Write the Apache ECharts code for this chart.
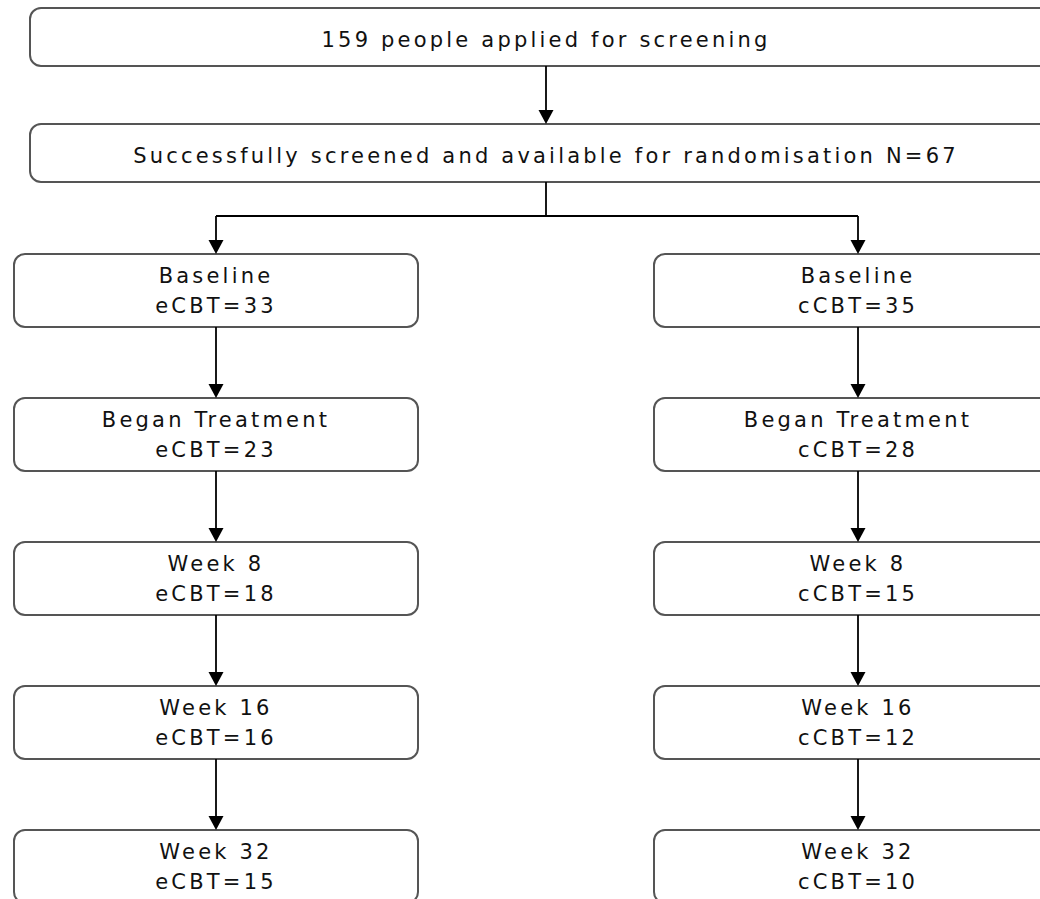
<!DOCTYPE html>
<html>
<head>
<meta charset="utf-8">
<script src="https://cdn.jsdelivr.net/npm/echarts@6/dist/echarts.min.js"></script>
<style>
  html, body { margin: 0; padding: 0; background: #fff; }
  #flow { width: 1040px; height: 899px; letter-spacing: 3.2px; }
</style>
</head>
<body>
<div id="flow"></div>
<script>
// flowchart counts
const applied = 159;
const randomised = 67;
const stages = ['Baseline', 'Began Treatment', 'Week 8', 'Week 16', 'Week 32'];
const eCBT = [33, 23, 18, 16, 15];
const cCBT = [35, 28, 15, 12, 10];
const arms = ['eCBT', 'cCBT'];

// layout (pixel units on hidden axes)
const W = 1040, H = 899;
const topBox = [30, 8, 1062, 66];
const randBox = [30, 124, 1062, 182];
const armX = [[14, 418], [654, 1062]];
const rowTop = 254, rowStep = 144, rowH = 73, splitY = 216;

const boxes = [];
const arrows = [];
boxes.push([topBox[0], topBox[1], topBox[2], topBox[3], applied + ' people applied for screening']);
boxes.push([randBox[0], randBox[1], randBox[2], randBox[3], 'Successfully screened and available for randomisation N=' + randomised]);
arrows.push([546, topBox[3], 546, randBox[1], 1]);
arrows.push([546, randBox[3], 546, splitY, 0]);

[eCBT, cCBT].forEach((vals, a) => {
    const x0 = armX[a][0], x1 = armX[a][1];
    const cx = (x0 + x1) / 2;
    arrows.push([546, splitY, cx, splitY, 0]);
    arrows.push([cx, splitY, cx, rowTop, 1]);
    stages.forEach((s, i) => {
        const y0 = rowTop + rowStep * i;
        boxes.push([x0, y0, x1, y0 + rowH, s + '\n' + arms[a] + '=' + vals[i]]);
        if (i > 0) arrows.push([cx, y0 - rowStep + rowH, cx, y0, 1]);
    });
});

const chart = echarts.init(document.getElementById('flow'), null, { renderer: 'svg' });
chart.setOption({
    animation: false,
    grid: { left: 0, right: 0, top: 0, bottom: 0 },
    xAxis: { type: 'value', min: 0, max: W, show: false },
    yAxis: { type: 'value', min: 0, max: H, inverse: true, show: false },
    series: [
        {
            type: 'custom',
            data: boxes,
            renderItem: (params, api) => {
                const p0 = api.coord([api.value(0), api.value(1)]);
                const p1 = api.coord([api.value(2), api.value(3)]);
                const label = boxes[params.dataIndex][4];
                const twoLine = label.indexOf('\n') >= 0;
                return {
                    type: 'group',
                    children: [
                        {
                            type: 'rect',
                            shape: { x: p0[0], y: p0[1], width: p1[0] - p0[0], height: p1[1] - p0[1], r: 11 },
                            style: { fill: '#fff', stroke: '#555', lineWidth: 2 }
                        },
                        {
                            type: 'text',
                            x: (p0[0] + Math.min(p1[0], W + 22)) / 2,
                            y: (p0[1] + p1[1]) / 2 + (twoLine ? 0 : 3),
                            style: {
                                text: label,
                                fill: '#111',
                                font: '21px "DejaVu Sans", Verdana, sans-serif',
                                lineHeight: 30,
                                align: 'center',
                                verticalAlign: 'middle'
                            }
                        }
                    ]
                };
            }
        },
        {
            type: 'custom',
            data: arrows,
            z: 3,
            renderItem: (params, api) => {
                const a = api.coord([api.value(0), api.value(1)]);
                const b = api.coord([api.value(2), api.value(3)]);
                const head = api.value(4) === 1;
                const children = [{
                    type: 'line',
                    shape: { x1: a[0], y1: a[1], x2: b[0], y2: head ? b[1] - 10 : b[1] },
                    style: { stroke: '#000', lineWidth: 1.8 }
                }];
                if (head) {
                    children.push({
                        type: 'polygon',
                        shape: { points: [[b[0] - 7.5, b[1] - 14], [b[0] + 7.5, b[1] - 14], [b[0], b[1]]] },
                        style: { fill: '#000' }
                    });
                }
                return { type: 'group', children: children };
            }
        }
    ]
});
</script>
</body>
</html>
